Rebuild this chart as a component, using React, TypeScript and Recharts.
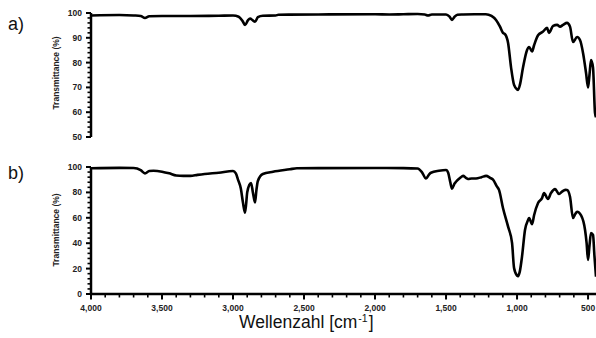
import React from 'react';
import { LineChart, Line, XAxis, YAxis } from 'recharts';

// spectrum a)
const WAVENUMBER_A = [
  4000, 3800, 3700, 3650, 3620, 3590, 3500, 3300, 3100, 3000, 2960, 2930, 2915, 2895, 2880, 2860, 2845, 2825,
  2790, 2700, 2680, 2400, 2000, 1900, 1800, 1700, 1650, 1627, 1600, 1500, 1475, 1458, 1440, 1420, 1380, 1300,
  1220, 1180, 1148, 1120, 1099, 1085, 1063, 1042, 1021, 1000, 993, 980, 958, 930, 915, 894, 880, 852, 817, 789,
  775, 746, 718, 697, 676, 648, 627, 606, 577, 556, 535, 514, 500, 490, 479, 465, 451, 444,
];
const TRANSMITTANCE_A = [
  99, 99.2, 99, 98.8, 98, 98.7, 98.8, 98.8, 98.9, 99, 98.5, 96.5, 95.2, 97, 97.8, 97, 96.5, 98.3,
  98.9, 99, 99.3, 99.4, 99.5, 99.4, 99.5, 99.6, 99.4, 99, 99.4, 99.4, 98.5, 97.2, 98.5, 99.3, 99.4, 99.5,
  99.5, 98.8, 97.2, 94.5, 92, 91.5, 87.9, 78, 71, 69.2, 69, 71, 78, 85, 86.3, 84.5, 87, 91, 92.5, 94,
  92, 94.8, 95.2, 94.5, 95.2, 96, 94.5, 88.3, 90.3, 89, 83.8, 75.8, 70, 75, 81, 78, 59.7, 58,
];

// spectrum b)
const WAVENUMBER_B = [
  4000, 3800, 3700, 3650, 3620, 3590, 3560, 3500, 3450, 3400, 3350, 3300, 3250, 3200, 3100, 3000, 2980, 2965,
  2945, 2930, 2915, 2900, 2885, 2873, 2860, 2845, 2835, 2825, 2790, 2718, 2600, 2550, 2400, 2000, 1800, 1700,
  1670, 1641, 1620, 1606, 1550, 1500, 1485, 1470, 1458, 1440, 1430, 1400, 1380, 1360, 1345, 1320, 1289, 1250,
  1218, 1190, 1169, 1141, 1127, 1099, 1063, 1035, 1021, 1000, 993, 980, 965, 944, 923, 915, 894, 880, 852, 824,
  810, 782, 761, 732, 704, 683, 660, 648, 627, 606, 590, 577, 549, 521, 510, 500, 490, 479, 465, 455, 444,
];
const TRANSMITTANCE_B = [
  99, 99.3, 99.2, 97.5, 95, 96.8, 97, 96.3, 95, 93.3, 93, 93, 93.8, 94.5, 95.5, 96.8, 95, 90,
  83, 72, 64, 80, 86, 87.4, 80, 72, 82, 89, 94.5, 96.3, 98.2, 99, 99.1, 99.2, 99.1, 98.8,
  96, 91, 94, 95.5, 97, 97.6, 95.5, 88, 83, 87, 88.4, 91.5, 93, 91.5, 90.5, 91, 91, 92,
  93, 91.5, 90, 84.5, 82, 67.7, 53, 40, 20.5, 14.5, 14, 18, 29.4, 50.4, 58, 59.8, 55, 62, 71.6, 75.5,
  79.5, 74.8, 79.5, 82.6, 78.7, 80.6, 82, 81.9, 76.6, 59.8, 63, 64.8, 62, 50.4, 40, 26.8, 38, 48, 46.5, 30, 13.6,
];

const X_TICKS = Array.from({ length: 36 }, (_, i) => 4000 - i * 100);
const Y_TICKS_A = Array.from({ length: 26 }, (_, i) => 50 + i * 2);
const Y_TICKS_B = Array.from({ length: 26 }, (_, i) => i * 4);

const FONT = '"Liberation Sans", Arial, sans-serif';
const X_DOMAIN: [number, number] = [444, 4000];

const dataA = WAVENUMBER_A.map((wn, i) => ({ wn, t: TRANSMITTANCE_A[i] }));
const dataB = WAVENUMBER_B.map((wn, i) => ({ wn, t: TRANSMITTANCE_B[i] }));

const fmt = (v: number) => v.toLocaleString('en-US');

const YTick = (props: any) => {
  const { x, y, payload, major } = props;
  const isMajor = payload.value % major === 0;
  return (
    <g>
      <line x1={x} x2={x - (isMajor ? 5 : 3.5)} y1={y} y2={y} stroke="#000" strokeWidth={isMajor ? 2 : 1.6} />
      {isMajor && (
        <text x={x - 9} y={y} dy={3} textAnchor="end" fontSize={8.5} fontWeight="bold" fontFamily={FONT} fill="#222">
          {payload.value}
        </text>
      )}
    </g>
  );
};

const XTick = (props: any) => {
  const { x, y, payload } = props;
  const isMajor = payload.value % 500 === 0;
  return (
    <g>
      <line x1={x} x2={x} y1={y} y2={y + (isMajor ? 5.5 : 3.5)} stroke="#000" strokeWidth={isMajor ? 2 : 1.6} />
      {isMajor && (
        <text x={x} y={y + 16.5} textAnchor="middle" fontSize={8.5} fontWeight="bold" fontFamily={FONT} fill="#222">
          {fmt(payload.value)}
        </text>
      )}
    </g>
  );
};

const axisLine = { stroke: '#000', strokeWidth: 2.5 };

const App: React.FC = () => {
  return (
    <div style={{ position: 'absolute', left: 0, top: 0, width: 596, height: 338, background: '#fff', overflow: 'hidden' }}>
      {/* a) */}
      <div style={{ position: 'absolute', left: 0, top: 0 }}>
        <LineChart width={596} height={150} data={dataA} margin={{ top: 13, right: 0, bottom: 13, left: 0 }}>
          <XAxis dataKey="wn" type="number" domain={X_DOMAIN} reversed allowDataOverflow hide />
          <YAxis
            type="number"
            domain={[50, 100]}
            ticks={Y_TICKS_A}
            interval={0}
            width={91}
            axisLine={axisLine}
            tickLine={false}
            tickSize={0}
            tickMargin={0}
            tick={(p: any) => <YTick {...p} major={10} />}
          />
          <Line dataKey="t" type="monotone" stroke="#000" strokeWidth={2.6} dot={false} isAnimationActive={false} />
        </LineChart>
      </div>

      {/* b) */}
      <div style={{ position: 'absolute', left: 0, top: 150 }}>
        <LineChart width={596} height={188} data={dataB} margin={{ top: 17, right: 0, bottom: 14, left: 0 }}>
          <XAxis
            dataKey="wn"
            type="number"
            domain={X_DOMAIN}
            reversed
            allowDataOverflow
            ticks={X_TICKS}
            interval={0}
            height={30}
            axisLine={axisLine}
            tickLine={false}
            tickSize={0}
            tickMargin={0}
            tick={(p: any) => <XTick {...p} />}
          />
          <YAxis
            type="number"
            domain={[0, 100]}
            ticks={Y_TICKS_B}
            interval={0}
            width={91}
            axisLine={axisLine}
            tickLine={false}
            tickSize={0}
            tickMargin={0}
            tick={(p: any) => <YTick {...p} major={20} />}
          />
          <Line dataKey="t" type="monotone" stroke="#000" strokeWidth={2.6} dot={false} isAnimationActive={false} />
        </LineChart>
      </div>

      <svg width={596} height={338} style={{ position: 'absolute', left: 0, top: 0, pointerEvents: 'none' }}>
        <text x={8} y={30} fontSize={18} fontFamily={FONT} fill="#111">a)</text>
        <text x={8} y={179} fontSize={18} fontFamily={FONT} fill="#111">b)</text>
        <text transform="translate(59,73) rotate(-90)" textAnchor="middle" fontSize={8.5} fontWeight="bold" fontFamily={FONT} fill="#222">
          Transmittance (%)
        </text>
        <text transform="translate(59,230) rotate(-90)" textAnchor="middle" fontSize={8.5} fontWeight="bold" fontFamily={FONT} fill="#222">
          Transmittance (%)
        </text>
        <text x={239} y={328} fontSize={17.5} fontFamily={FONT} fill="#111">
          Wellenzahl [cm
          <tspan fontSize={10.5} dx={1} dy={-6}>-1</tspan>
          <tspan dx={1} dy={6}>]</tspan>
        </text>
      </svg>
    </div>
  );
};

export default App;
